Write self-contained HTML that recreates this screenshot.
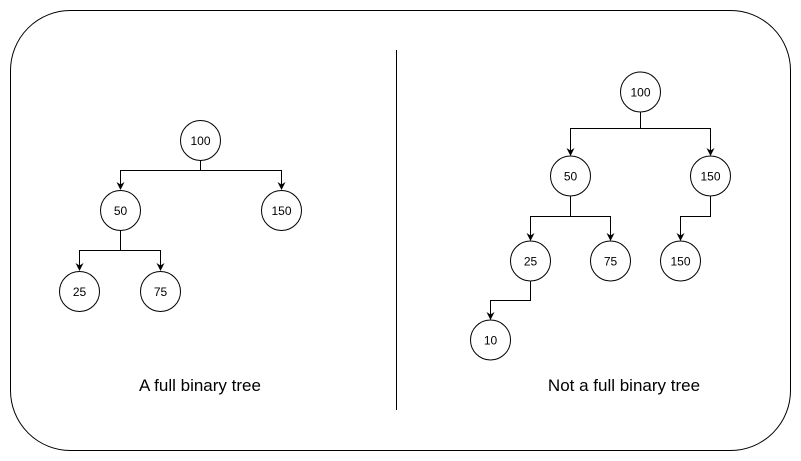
<!DOCTYPE html>
<html><head><meta charset="utf-8"><style>
html,body{margin:0;padding:0;background:#fff;}
svg{display:block;}
text{font-family:"Liberation Sans",Arial,sans-serif;}
</style></head><body>
<svg width="801" height="461" viewBox="0 0 801 461" xmlns="http://www.w3.org/2000/svg">
<defs><marker id="a" markerWidth="8" markerHeight="8" refX="7" refY="4" orient="auto" markerUnits="userSpaceOnUse"><path d="M0,0 L8,4 L0,8 L2.5,4 Z" fill="#000"/></marker></defs>
<rect x="10.5" y="10.5" width="780" height="440" rx="60" fill="#fff" stroke="#000" stroke-width="1"/>
<line x1="396.5" y1="50" x2="396.5" y2="410" stroke="#000"/>
<g fill="none" stroke="#000" stroke-width="1">
<path d="M200.5 160 V170.5 H120.5 V189" marker-end="url(#a)"/>
<path d="M200.5 170.5 H281.5 V189" marker-end="url(#a)"/>
<path d="M120.5 230 V250.5 H79.5 V270" marker-end="url(#a)"/>
<path d="M120.5 250.5 H160.5 V270" marker-end="url(#a)"/>
<path d="M640.5 112 V128.5 H570.5 V155" marker-end="url(#a)"/>
<path d="M640.5 128.5 H710.5 V155" marker-end="url(#a)"/>
<path d="M570.5 196 V216.5 H530.5 V240" marker-end="url(#a)"/>
<path d="M570.5 216.5 H610.5 V240" marker-end="url(#a)"/>
<path d="M710.5 196 V216.5 H680.5 V240" marker-end="url(#a)"/>
<path d="M530.5 281 V300.5 H490.5 V319" marker-end="url(#a)"/>
</g>
<g fill="#fff" stroke="#000" stroke-width="1">
<circle cx="200.5" cy="140.5" r="20"/><circle cx="120.5" cy="210.5" r="20"/><circle cx="281.5" cy="210.5" r="20"/>
<circle cx="79.5" cy="291.5" r="20"/><circle cx="160.5" cy="291.5" r="20"/>
<circle cx="640.5" cy="92" r="20"/><circle cx="570.5" cy="176" r="20"/><circle cx="710.5" cy="176" r="20"/>
<circle cx="530.5" cy="261" r="20"/><circle cx="610.5" cy="261" r="20"/><circle cx="680.5" cy="261" r="20"/>
<circle cx="490.5" cy="340" r="20"/>
</g>
<g font-size="12" text-anchor="middle" fill="#000">
<text x="200.5" y="145">100</text><text x="120.5" y="215">50</text><text x="281.5" y="215">150</text>
<text x="79.5" y="296">25</text><text x="160.5" y="296">75</text>
<text x="640.5" y="96.5">100</text><text x="570.5" y="180.5">50</text><text x="710.5" y="180.5">150</text>
<text x="530.5" y="265.5">25</text><text x="610.5" y="265.5">75</text><text x="680.5" y="265.5">150</text>
<text x="490.5" y="344.5">10</text>
</g>
<g font-size="17" text-anchor="middle" fill="#000">
<text x="200" y="391">A full binary tree</text>
<text x="624" y="391">Not a full binary tree</text>
</g>
</svg>
</body></html>
